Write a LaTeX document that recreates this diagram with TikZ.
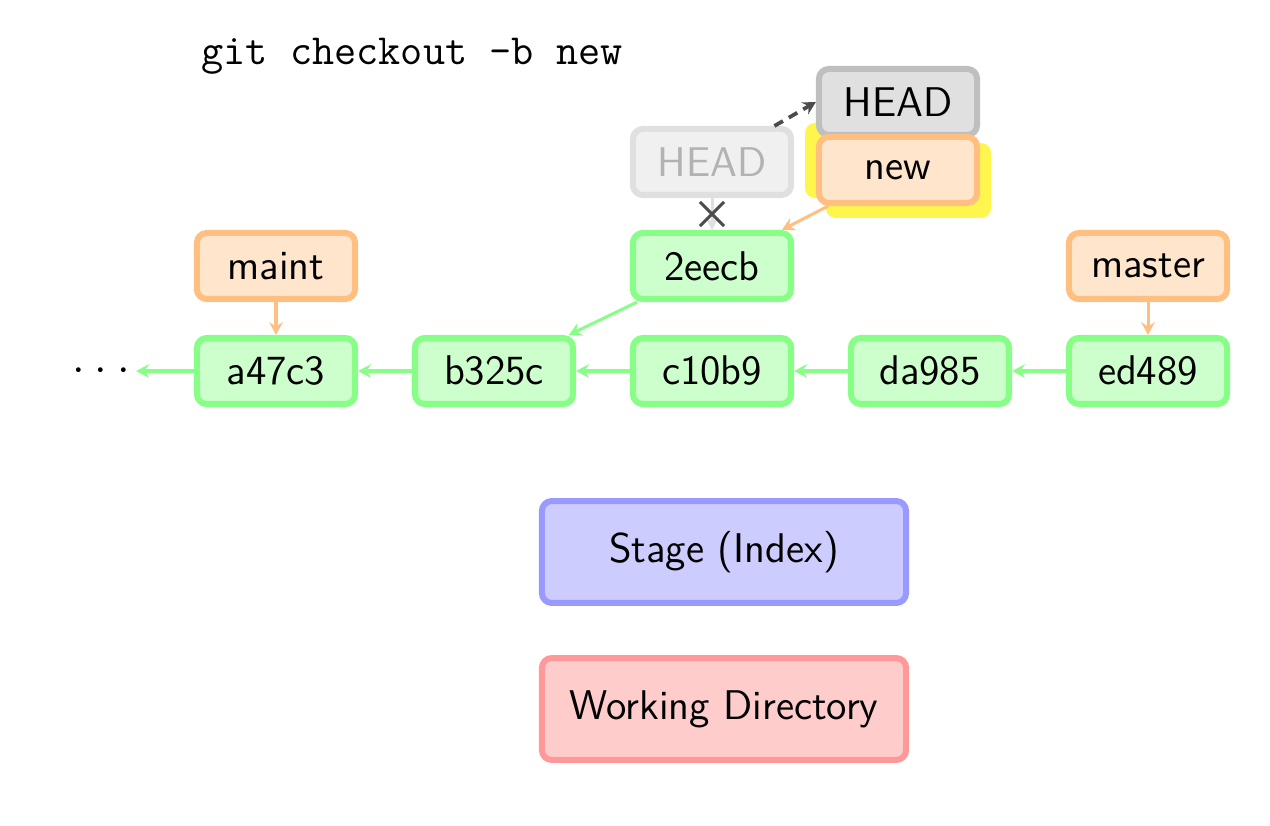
\documentclass[tikz,border=0pt]{standalone}
\usetikzlibrary{arrows.meta,shapes.misc}
\begin{document}
\begin{tikzpicture}[x=0.265pt,y=-0.265pt,
  base/.style={rounded corners=2.6pt, line width=1.6pt, inner sep=0pt,
    font=\sffamily\fontsize{11}{13}\selectfont},
  small/.style={base, minimum width=41.9pt, minimum height=17.5pt},
  commit/.style={small, draw=green!47, fill=green!20},
  branch/.style={small, draw=orange!50, fill=orange!20},
  headbox/.style={small, draw=black!25, fill=black!12},
  fadedhead/.style={small, draw=black!12, fill=black!6, text=black!30},
  area/.style={base, minimum width=96.5pt, minimum height=27pt},
  hl/.style={rounded corners=2.6pt, fill=yellow!70},
  tip/.style={-{Stealth[length=3.4pt,width=3.6pt,inset=1.2pt]}},
  carrow/.style={tip, thick, draw=green!47},
  barrow/.style={tip, thick, draw=orange!50},
]
\useasboundingbox (0,0) rectangle (1270,826);

\node[font=\ttfamily\fontsize{11.4}{13}\selectfont] (cmd) at (412,56) {git checkout -b new};

% yellow highlight behind the new branch
\fill[hl] (805,123) rectangle (970,198);
\fill[hl] (826,143) rectangle (991,218);

\node[headbox] (head) at (898,102) {HEAD};
\node[branch] (new) at (898,170) {new};
\node[fadedhead] (fh) at (712,162) {HEAD};

\node[commit] (c2eecb) at (712,266) {2eecb};
\node[branch] (maint) at (276,266) {maint};
\node[branch] (master) at (1148,266) {master};

\node[font=\fontsize{12}{14}\selectfont, inner xsep=1.5pt] (dots) at (101,371) {$\cdot$\hspace{2.6pt}$\cdot$\hspace{2.6pt}$\cdot$};
\node[commit] (a47c3) at (276,371) {a47c3};
\node[commit] (b325c) at (494,371) {b325c};
\node[commit] (c10b9) at (712,371) {c10b9};
\node[commit] (da985) at (930,371) {da985};
\node[commit] (ed489) at (1148,371) {ed489};

\node[area, draw=blue!40, fill=blue!20] (stage) at (724,552) {Stage (Index)};
\node[area, draw=red!40, fill=red!20] (wd) at (724,709) {Working Directory};

% commit chain
\draw[carrow] (a47c3) -- (dots);
\draw[carrow] (b325c) -- (a47c3);
\draw[carrow] (c10b9) -- (b325c);
\draw[carrow] (da985) -- (c10b9);
\draw[carrow] (ed489) -- (da985);
\draw[carrow] (c2eecb) -- (b325c);

% branches
\draw[barrow] (maint) -- (a47c3);
\draw[barrow] (master) -- (ed489);
\draw[barrow] (new) -- (c2eecb);

% old HEAD
\draw[tip, thick, draw=black!12] (fh) -- (c2eecb) node[midway, cross out, draw=black!70, thick, minimum size=5.6pt, inner sep=0pt] (x) {};
\draw[tip, line width=1pt, draw=black!70, dashed, dash pattern=on 2.6pt off 1.8pt] (fh.30) -- (head.west);
\end{tikzpicture}
\end{document}
